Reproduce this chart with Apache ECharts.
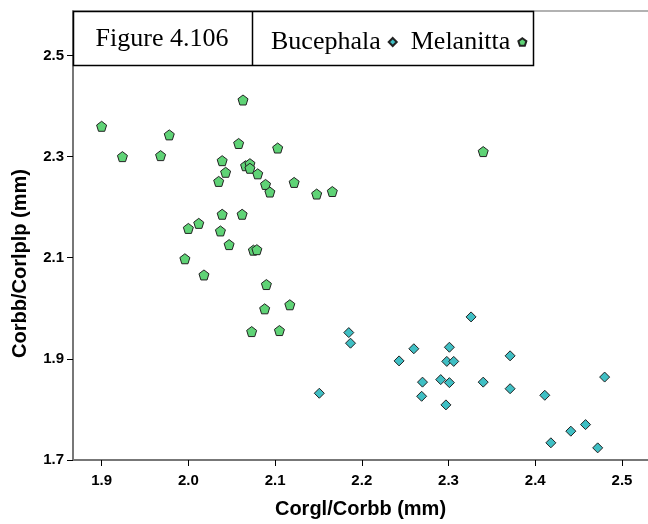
<!DOCTYPE html>
<html>
<head>
<meta charset="utf-8">
<script src="https://cdn.jsdelivr.net/npm/echarts@6/dist/echarts.min.js"></script>
<style>
html,body{margin:0;padding:0;background:#fff;}
#chart{width:648px;height:524px;}
</style>
</head>
<body>
<div id="chart"></div>
<script>
const figureLabel = 'Figure 4.106';
const seriesNames = ['Bucephala', 'Melanitta'];
const xTitle = 'Corgl/Corbb (mm)';
const yTitle = 'Corbb/Corlplp (mm)';

const bucephalaX = [2.185,2.187,2.151,2.243,2.260,2.301,2.298,2.306,2.270,2.269,2.291,2.301,2.297,2.326,2.340,2.371,2.371,2.411,2.480,2.418,2.441,2.458,2.472];
const bucephalaY = [1.952,1.931,1.832,1.896,1.920,1.923,1.895,1.895,1.854,1.826,1.859,1.853,1.809,1.983,1.854,1.906,1.841,1.828,1.864,1.734,1.757,1.770,1.724];

const melanittaX = [2.063,1.900,1.978,1.924,1.968,2.058,2.103,2.039,2.066,2.071,2.071,2.043,2.080,2.035,2.089,2.094,2.122,2.148,2.166,2.039,2.062,2.012,2.000,2.037,2.047,2.075,2.079,1.996,2.018,2.090,2.117,2.088,2.105,2.073,2.340];
const melanittaY = [2.412,2.360,2.343,2.300,2.302,2.326,2.317,2.292,2.282,2.286,2.277,2.269,2.266,2.251,2.245,2.230,2.249,2.226,2.231,2.186,2.186,2.168,2.158,2.153,2.126,2.115,2.116,2.098,2.066,2.047,2.007,1.999,1.956,1.954,2.310];

const xTicks = [1.9, 2.0, 2.1, 2.2, 2.3, 2.4, 2.5];
const yTicks = [1.7, 1.9, 2.1, 2.3, 2.5];

const pentagon = 'path://M0,-1L0.951,-0.309L0.588,0.809L-0.588,0.809L-0.951,-0.309Z';
const blueFill = '#3fbfc4';
const greenFill = '#5fd376';
const edge = '#222222';
const sansBold = {fontFamily: 'Liberation Sans, Arial, sans-serif', fontWeight: 'bold', color: '#000'};

function pairs(xs, ys) { return xs.map((x, i) => [x, ys[i]]); }

const chart = echarts.init(document.getElementById('chart'), null, {renderer: 'canvas'});
chart.setOption({
  animation: false,
  backgroundColor: '#fff',
  grid: {left: 73, right: 0, top: 11, bottom: 63, containLabel: false},
  xAxis: [{
    type: 'value', min: 1.867, max: 2.53,
    name: xTitle, nameLocation: 'middle', nameGap: 39,
    nameTextStyle: Object.assign({fontSize: 20}, sansBold),
    axisLine: {show: true, lineStyle: {color: '#777', width: 2}},
    axisTick: {show: true, length: 6, lineStyle: {color: '#000', width: 1}, customValues: xTicks},
    axisLabel: Object.assign({fontSize: 15, margin: 13, customValues: xTicks, formatter: v => v.toFixed(1)}, sansBold),
    splitLine: {show: false}
  }, {
    type: 'value', position: 'top', min: 1.867, max: 2.53,
    axisLine: {show: true, onZero: false, lineStyle: {color: '#999', width: 1.5}},
    axisTick: {show: false}, axisLabel: {show: false}, splitLine: {show: false}
  }],
  yAxis: [{
    type: 'value', min: 1.7, max: 2.588,
    name: yTitle, nameLocation: 'middle', nameGap: 43, nameRotate: 90,
    nameTextStyle: Object.assign({fontSize: 20, padding: [0, 56, 0, 0]}, sansBold),
    axisLine: {show: true, lineStyle: {color: '#777', width: 2}},
    axisTick: {show: true, length: 6, lineStyle: {color: '#000', width: 1}, customValues: yTicks},
    axisLabel: Object.assign({fontSize: 15, margin: 9, customValues: yTicks, formatter: v => v.toFixed(1)}, sansBold),
    splitLine: {show: false}
  }],
  legend: {
    data: seriesNames,
    left: 266, top: 24, align: 'right', orient: 'horizontal',
    itemWidth: 8, itemHeight: 8, itemGap: 13,
    textStyle: {fontFamily: 'Liberation Serif, Times New Roman, serif', fontSize: 26, color: '#000', padding: [0, 3, 0, 0]},
    z: 10
  },
  graphic: [{
    type: 'rect', z: 8,
    shape: {x: 73.5, y: 11.5, width: 460, height: 54},
    style: {fill: '#fff', stroke: '#000', lineWidth: 1.5}
  }, {
    type: 'line', z: 9,
    shape: {x1: 252.5, y1: 11.5, x2: 252.5, y2: 65.5},
    style: {stroke: '#000', lineWidth: 1.5}
  }, {
    type: 'text', z: 9, x: 162, y: 39,
    style: {text: figureLabel, fontFamily: 'Liberation Serif, Times New Roman, serif', fontSize: 26, fill: '#000', align: 'center', verticalAlign: 'middle'}
  }],
  series: [{
    name: seriesNames[0], type: 'scatter', symbol: 'diamond', symbolSize: 10,
    itemStyle: {color: blueFill, borderColor: edge, borderWidth: 1, opacity: 1},
    data: pairs(bucephalaX, bucephalaY), z: 3
  }, {
    name: seriesNames[1], type: 'scatter', symbol: pentagon, symbolSize: [10, 10],
    itemStyle: {color: greenFill, borderColor: edge, borderWidth: 1, opacity: 1},
    data: pairs(melanittaX, melanittaY), z: 3
  }]
});
</script>
</body>
</html>
